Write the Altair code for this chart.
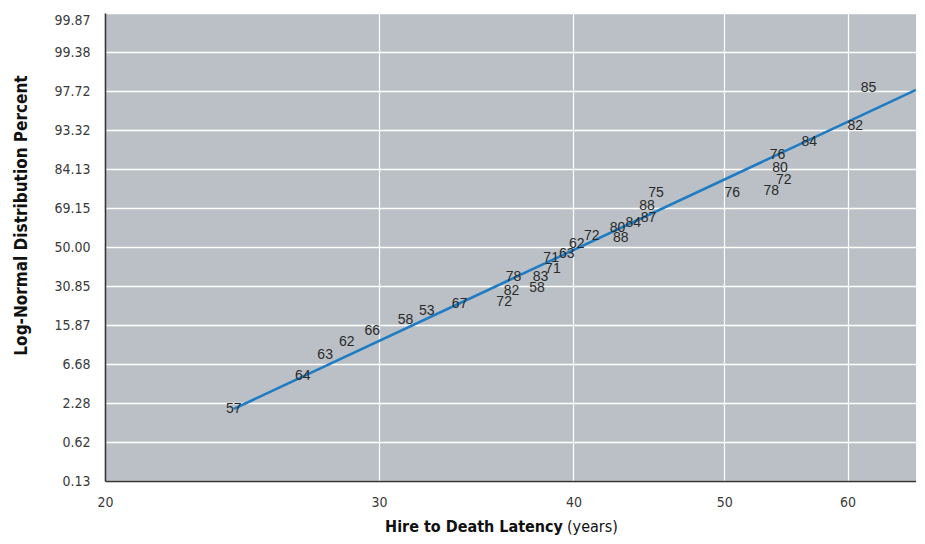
import altair as alt
import pandas as pd

# Data (label = hire year, x = latency in years, y = percentile)
hire_year = [57, 64, 63, 62, 66, 58, 53, 67, 72, 82, 78, 58, 83, 71, 71, 63,
             62, 72, 80, 88, 84, 87, 88, 75, 76, 78, 72, 80, 76, 84, 82, 85]
latency = [24.2, 26.8, 27.7, 28.6, 29.7, 31.2, 32.2, 33.8, 36.1, 36.5, 36.6, 37.9,
           38.1, 38.8, 38.7, 39.6, 40.2, 41.1, 42.7, 42.9, 43.7, 44.7, 44.6, 45.2,
           50.6, 53.6, 54.6, 54.3, 54.1, 56.7, 60.7, 61.9]
percent = [1.9, 4.9, 8.3, 11.2, 14.1, 17.5, 20.6, 23.2, 24.0, 28.6, 35.0, 30.0,
           35.0, 38.9, 44.4, 46.4, 51.5, 55.6, 59.6, 54.6, 62.1, 64.5, 70.0, 75.6,
           75.6, 76.4, 80.5, 84.4, 88.1, 91.1, 94.0, 97.9]

fit_latency = [24.2, 66.4]
fit_percent = [1.9, 97.8]

x_ticks = [20, 30, 40, 50, 60]
y_tick_z = [-3.0, -2.5, -2.0, -1.5, -1.0, -0.5, 0.0, 0.5, 1.0, 1.5, 2.0, 2.5, 3.0]
y_tick_labels = ["0.13", "0.62", "2.28", "6.68", "15.87", "30.85", "50.00",
                 "69.15", "84.13", "93.32", "97.72", "99.38", "99.87"]

pts = pd.DataFrame({"hire": [str(h) for h in hire_year], "latency": latency, "percent": percent})
fit = pd.DataFrame({"latency": fit_latency, "percent": fit_percent})

COND = "Liberation Sans Narrow, DejaVu Sans Condensed, Roboto, sans-serif"
label_expr = "[" + ",".join("'%s'" % s for s in y_tick_labels) + "][round((datum.value + 3) * 2)]"

x_enc = alt.X("latency:Q",
              scale=alt.Scale(type="log", domain=[20, 66.4], nice=False),
              axis=alt.Axis(values=x_ticks, format="d", title=None, grid=True,
                            ticks=False, labelPadding=14, labelFlush=False,
                            labelOverlap=False, domainColor="#333333",
                            domainWidth=1.6, labelFont=COND, labelFontSize=14,
                            labelColor="#3a3a3a", gridColor="white", gridWidth=1.2))
y_enc = alt.Y("z:Q",
              scale=alt.Scale(domain=[-3, 3], nice=False, zero=False),
              axis=alt.Axis(values=y_tick_z, labelExpr=label_expr,
                            title="Log-Normal Distribution Percent",
                            titleFont=COND, titleFontSize=17, titleFontWeight="bold",
                            titleColor="#111111", titleAngle=-90, titleX=-84, titleY=202,
                            titleAlign="center", titleBaseline="middle",
                            grid=True, ticks=False, labelPadding=15,
                            labelOverlap=False, labelFlush=False, labelBound=False,
                            labelBaseline={"condition": {"test": "datum.value >= 3", "value": "top"},
                                           "value": "middle"},
                            domainColor="#333333", domainWidth=1.6, labelFont=COND,
                            labelFontSize=14, labelColor="#3a3a3a",
                            gridColor="white", gridWidth=1.4))

line = alt.Chart(fit).transform_calculate(
    z="quantileNormal(datum.percent / 100)"
).mark_line(color="#1f7cc4", strokeWidth=2.6).encode(x=x_enc, y=y_enc)

labels = alt.Chart(pts).transform_calculate(
    z="quantileNormal(datum.percent / 100)"
).mark_text(font="Liberation Sans, Arial, sans-serif", fontSize=14, color="#2a2a2a").encode(
    x=x_enc, y=y_enc, text="hire:N")

t1 = alt.Chart(pd.DataFrame({"t": ["Hire to Death Latency"]})).mark_text(
    font=COND, fontSize=16, fontWeight="bold", color="#111111", align="right",
    baseline="middle").encode(x=alt.value(458), y=alt.value(514), text="t:N")
t2 = alt.Chart(pd.DataFrame({"t": ["(years)"]})).mark_text(
    font=COND, fontSize=16, color="#111111", align="left",
    baseline="middle").encode(x=alt.value(462), y=alt.value(514), text="t:N")

chart = alt.layer(line, labels, t1, t2).properties(
    width=811, height=468,
    background="white",
    autosize=alt.AutoSizeParams(type="none"),
    padding={"left": 97, "top": 5, "right": 0, "bottom": 55},
).configure_view(fill="#bac0c5", stroke=None)

chart.save("out.html", embed_options={"renderer": "svg", "actions": False})
